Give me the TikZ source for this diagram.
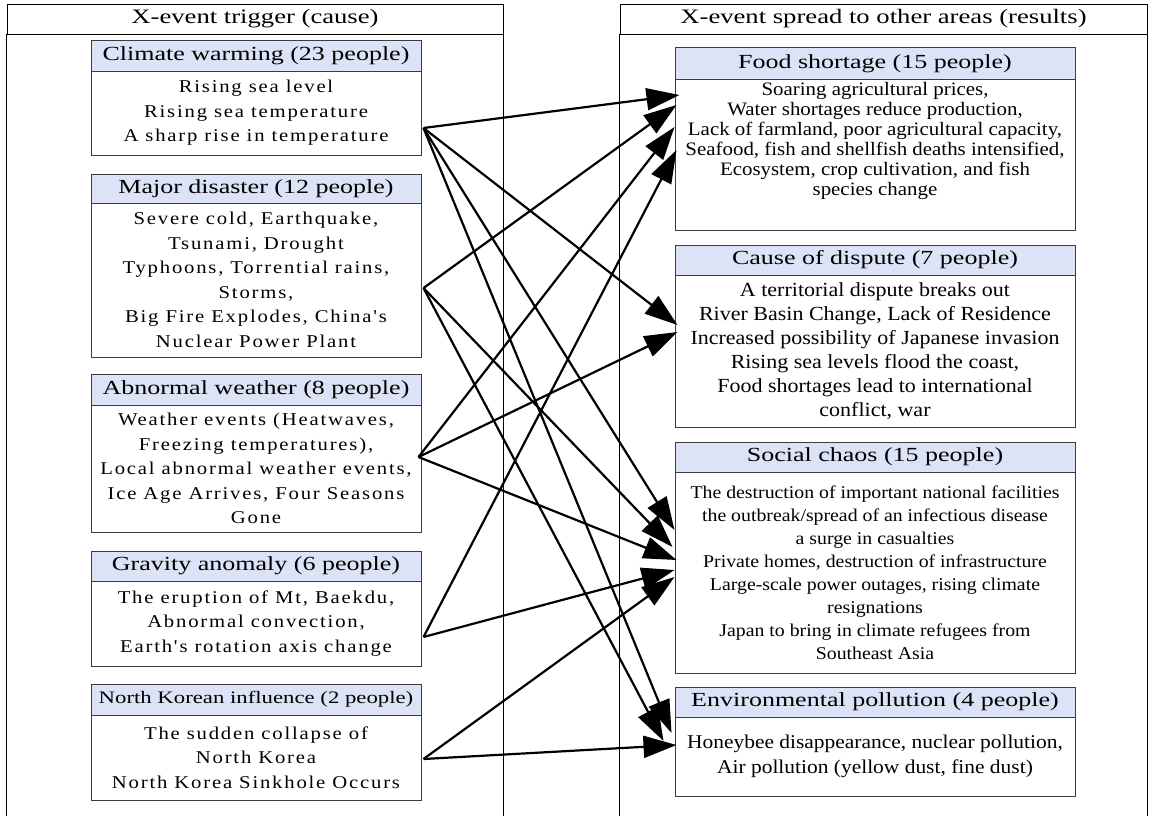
\documentclass[tikz,border=0pt]{standalone}
\usepackage{fontspec}
\setmainfont{Liberation Serif}
\newfontfamily\widefont[FakeStretch=1.3]{Liberation Serif}
\newfontfamily\spacedfont[FakeStretch=1.15,LetterSpace=10]{Liberation Serif}
\newfontfamily\narrfont[FakeStretch=1.1]{Liberation Serif}
\usetikzlibrary{arrows.meta,calc}
\definecolor{hdrfill}{RGB}{221,227,246}
\definecolor{boxline}{RGB}{60,60,60}
\begin{document}
\begin{tikzpicture}[x=1pt,y=-1pt,
  panelline/.style={draw=black,line width=0.9pt},
  panelhdr/.style={draw=black,line width=0.9pt,inner sep=0pt,minimum height=30pt,
    font=\fontsize{20.5}{24}\selectfont\widefont},
  hdr/.style={draw=boxline,fill=hdrfill,line width=1pt,inner sep=0pt,
    font=\fontsize{20}{24}\selectfont\widefont},
  lbody/.style={draw=boxline,fill=white,line width=1pt,inner sep=0pt,align=center,
    minimum width=330pt,font=\fontsize{18}{24.5}\selectfont\spacedfont},
  rbody/.style={draw=boxline,fill=white,line width=1pt,inner sep=0pt,align=center,
    minimum width=400pt},
  rtext/.style={inner sep=0pt,align=center},
  arr/.style={draw=black,line width=2.2pt,-{Triangle[length=33pt,width=22pt]}}
]
\useasboundingbox[fill=white] (0,0) rectangle (1150,816);

% panels
\node[panelhdr,minimum width=496pt] (lph) at (255,19) {X-event trigger (cause)};
\node[panelhdr,minimum width=527pt] (rph) at (883.5,19) {X-event spread to other areas (results)};
\draw[panelline] (lph.south west) -- ++(0,782);
\draw[panelline] (lph.south east) -- ++(0,782);
\draw[panelline] (rph.south west) -- ++(0,782);
\draw[panelline] (rph.south east) -- ++(0,782);

% left boxes
\node[hdr,minimum width=330pt,minimum height=30pt] (cwh) at (256,56) {Climate warming (23 people)};
\node[lbody,minimum height=84pt] (cwb) at (256,113) {Rising sea level\\Rising sea temperature\\A sharp rise in temperature};

\node[hdr,minimum width=330pt,minimum height=29pt] (mdh) at (256,188.5) {Major disaster (12 people)};
\node[lbody,minimum height=154pt] (mdb) at (256,280) {Severe cold, Earthquake,\\Tsunami, Drought\\Typhoons, Torrential rains,\\Storms,\\Big Fire Explodes, China's\\Nuclear Power Plant};

\node[hdr,minimum width=330pt,minimum height=31pt] (awh) at (256,389.5) {Abnormal weather (8 people)};
\node[lbody,minimum height=127pt] (awb) at (256,468.5) {Weather events (Heatwaves,\\Freezing temperatures),\\Local abnormal weather events,\\Ice Age Arrives, Four Seasons\\Gone};

\node[hdr,minimum width=330pt,minimum height=30pt] (gah) at (256,566) {Gravity anomaly (6 people)};
\node[lbody,minimum height=85pt] (gab) at (256,623.5) {The eruption of Mt, Baekdu,\\Abnormal convection,\\Earth's rotation axis change};

\node[hdr,minimum width=330pt,minimum height=31pt,font=\fontsize{17.5}{22}\selectfont\widefont] (nkh) at (256,699.5) {North Korean influence (2 people)};
\node[lbody,minimum height=85pt] (nkb) at (256,757.5) {The sudden collapse of\\North Korea\\North Korea Sinkhole Occurs};

% right boxes
\node[hdr,minimum width=400pt,minimum height=31pt] (fsh) at (875,63.5) {Food shortage (15 people)};
\node[rbody,minimum height=151pt] (fsb) at (875,154.5) {};
\node[rtext,font=\fontsize{19}{20}\selectfont\narrfont] (fst) at ($(fsb.center)+(0,-14)$) {Soaring agricultural prices,\\Water shortages reduce production,\\Lack of farmland, poor agricultural capacity,\\Seafood, fish and shellfish deaths intensified,\\Ecosystem, crop cultivation, and fish\\species change};

\node[hdr,minimum width=400pt,minimum height=30pt] (cdh) at (875,260) {Cause of dispute (7 people)};
\node[rbody,minimum height=152pt,font=\fontsize{20}{24}\selectfont\narrfont] (cdb) at (875,351) {A territorial dispute breaks out\\River Basin Change, Lack of Residence\\Increased possibility of Japanese invasion\\Rising sea levels flood the coast,\\Food shortages lead to international\\conflict, war};

\node[hdr,minimum width=400pt,minimum height=30pt] (sch) at (875,457) {Social chaos (15 people)};
\node[rbody,minimum height=201pt,font=\fontsize{18}{23}\selectfont\narrfont] (scb) at (875,572.5) {The destruction of important national facilities\\the outbreak/spread of an infectious disease\\a surge in casualties\\Private homes, destruction of infrastructure\\Large-scale power outages, rising climate\\resignations\\Japan to bring in climate refugees from\\Southeast Asia};

\node[hdr,minimum width=400pt,minimum height=30pt] (eph) at (875,702) {Environmental pollution (4 people)};
\node[rbody,minimum height=79pt,font=\fontsize{19.5}{25}\selectfont\narrfont] (epb) at (875,756.5) {Honeybee disappearance, nuclear pollution,\\Air pollution (yellow dust, fine dust)};

% connector end points
\coordinate (cwS) at ($(cwb.east)+(2,15)$);
\coordinate (mdS) at ($(mdb.east)+(2,8)$);
\coordinate (awS) at ($(awb.east)+(-3,-11.5)$);
\coordinate (gaS) at ($(gab.east)+(2,13.5)$);
\coordinate (nkS) at ($(nkb.east)+(2,1.5)$);

\coordinate (f1) at ($(fsb.west)+(5,-59.5)$);
\coordinate (f2) at ($(fsb.west)+(2,-49.5)$);
\coordinate (f3) at ($(fsb.west)+(0,-27.5)$);
\coordinate (f4) at ($(fsb.west)+(2,-4.5)$);
\coordinate (c1) at ($(cdb.west)+(3,-26)$);
\coordinate (c2) at ($(cdb.west)+(3,-19)$);
\coordinate (s1) at ($(scb.west)+(0,-42.5)$);
\coordinate (s2) at ($(scb.west)+(-2,-25.5)$);
\coordinate (s3) at ($(scb.west)+(2,-12.5)$);
\coordinate (s4) at ($(scb.west)+(0,-2.5)$);
\coordinate (s5) at ($(scb.west)+(0,4.5)$);
\coordinate (e1) at ($(epb.west)+(-3,-23.5)$);
\coordinate (e2) at ($(epb.west)+(-11,-15.5)$);
\coordinate (e3) at ($(epb.west)+(2,-11.5)$);

% connectors
\draw[arr] (cwS) -- (f1);
\draw[arr] (mdS) -- (f2);
\draw[arr] (awS) -- (f3);
\draw[arr] (gaS) -- (f4);
\draw[arr] (cwS) -- (c1);
\draw[arr] (awS) -- (c2);
\draw[arr] (cwS) -- (s1);
\draw[arr] (mdS) -- (s2);
\draw[arr] (awS) -- (s3);
\draw[arr] (gaS) -- (s4);
\draw[arr] (nkS) -- (s5);
\draw[arr] (cwS) -- (e1);
\draw[arr] (mdS) -- (e2);
\draw[arr] (nkS) -- (e3);
\end{tikzpicture}
\end{document}
